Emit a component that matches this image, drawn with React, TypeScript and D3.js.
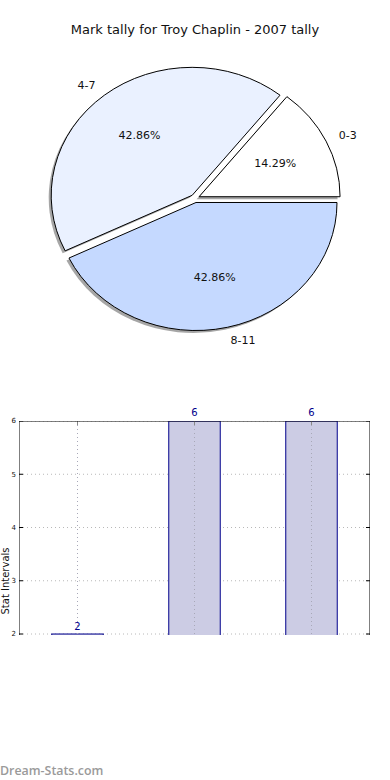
import React from "react";
import * as d3 from "d3";

// pie data
const pieLabels = ["0-3", "4-7", "8-11"];
const pieValues = [1, 3, 3];
const pieColors = ["#ffffff", "#eaf1ff", "#c5d9ff"];

// bar data
const barCategories = ["0-3", "4-7", "8-11"];
const barValues = [2, 6, 6];
const yTicks = [2, 3, 4, 5, 6];

const W = 390;
const H = 780;
const FONT = "DejaVu Sans, sans-serif";

const App = () => {
  // pie geometry (slightly squashed, like the original)
  const cx = 195;
  const cy = 198.5;
  const rx = 141;
  const ry = 128;
  const explode = 0.032;

  const pieGen = d3
    .pie<number>()
    .sort(null)
    .startAngle(Math.PI / 2)
    .endAngle(Math.PI / 2 - 2 * Math.PI);
  const arcs = pieGen(pieValues);
  const arcGen = d3.arc<d3.PieArcDatum<number>>().innerRadius(0).outerRadius(1);
  const total = d3.sum(pieValues);

  const slices = arcs.map((a, i) => {
    const mid = (a.startAngle + a.endAngle) / 2;
    const ux = Math.sin(mid);
    const uy = -Math.cos(mid);
    return {
      a,
      i,
      ux,
      uy,
      ox: cx + ux * explode * rx,
      oy: cy + uy * explode * ry,
    };
  });

  // bar geometry
  const left = 19;
  const right = 370;
  const top = 421;
  const bottom = 635;
  const x = d3.scaleLinear().domain([-0.5, barCategories.length - 0.5]).range([left, right]);
  const y = d3.scaleLinear().domain([2, 6]).range([634, top]);
  const barW = x(0.22) - x(-0.22);

  return (
    <svg
      width={W}
      height={H}
      style={{ position: "absolute", left: 0, top: 0, background: "#fff" }}
      fontFamily={FONT}
    >
      <defs>
        <clipPath id="plotClip">
          <rect x={left} y={top} width={right - left} height={bottom - top} />
        </clipPath>
      </defs>

      <text x={W / 2} y={34} textAnchor="middle" fontSize={13} fill="#111">
        Mark tally for Troy Chaplin - 2007 tally
      </text>

      {/* shadows */}
      {slices.map((s) => (
        <path
          key={"sh" + s.i}
          d={arcGen(s.a) || ""}
          transform={`translate(${s.ox - 2.5},${s.oy + 2.5}) scale(${rx},${ry})`}
          fill="#000"
          opacity={0.35}
        />
      ))}
      {/* slices */}
      {slices.map((s) => (
        <path
          key={"sl" + s.i}
          d={arcGen(s.a) || ""}
          transform={`translate(${s.ox},${s.oy}) scale(${rx},${ry})`}
          fill={pieColors[s.i]}
          stroke="#000"
          strokeWidth={1}
          vectorEffect="non-scaling-stroke"
          strokeLinejoin="round"
        />
      ))}
      {slices.map((s) => (
        <text
          key={"pc" + s.i}
          x={s.ox + s.ux * 0.6 * rx}
          y={s.oy + s.uy * 0.6 * ry}
          dy="0.35em"
          textAnchor="middle"
          fontSize={11}
          fill="#111"
        >
          {((pieValues[s.i] / total) * 100).toFixed(2)}%
        </text>
      ))}
      {slices.map((s) => (
        <text
          key={"lb" + s.i}
          x={s.ox + s.ux * 1.1 * rx}
          y={s.oy + s.uy * 1.1 * ry}
          dy="0.35em"
          textAnchor={s.ux > 0 ? "start" : "end"}
          fontSize={11}
          fill="#111"
        >
          {pieLabels[s.i]}
        </text>
      ))}

      {/* bar chart */}
      <g clipPath="url(#plotClip)">
        {yTicks.map((t) => (
          <line
            key={"gy" + t}
            x1={left}
            x2={right}
            y1={y(t)}
            y2={y(t)}
            stroke="#b8b8b8"
            strokeDasharray="1,3"
          />
        ))}
        {barValues.map((v, i) => (
          <rect
            key={"b" + i}
            x={x(i) - barW / 2}
            y={y(v)}
            width={barW}
            height={y(0) - y(v)}
            fill="#ccccE4"
            stroke="#00008b"
            strokeWidth={1}
          />
        ))}
        {barCategories.map((c, i) => (
          <line
            key={"gx" + c}
            x1={x(i)}
            x2={x(i)}
            y1={top}
            y2={bottom}
            stroke="#a8a8b8"
            strokeDasharray="1,3"
          />
        ))}
        {yTicks.map((t) => (
          <g key={"tk" + t}>
            <line x1={left} x2={left + 4} y1={y(t)} y2={y(t)} stroke="#000" />
            <line x1={right - 4} x2={right} y1={y(t)} y2={y(t)} stroke="#000" />
          </g>
        ))}
        {barCategories.map((c, i) => (
          <line key={"tt" + c} x1={x(i)} x2={x(i)} y1={top} y2={top + 4} stroke="#888" />
        ))}
        <rect x={left} y={top} width={right - left} height={bottom - top + 10} fill="none" stroke="#000" strokeWidth={1} />
        {barValues.map((v, i) => (
          <text
            key={"bv" + i}
            x={x(i)}
            y={y(v) - 4}
            textAnchor="middle"
            fontSize={10}
            fill="#00008b"
          >
            {v}
          </text>
        ))}
      </g>
      {barValues.map((v, i) =>
        y(v) <= top + 1 ? (
          <text key={"bo" + i} x={x(i)} y={y(v) - 5} textAnchor="middle" fontSize={10} fill="#00008b">
            {v}
          </text>
        ) : null
      )}
      {yTicks.map((t) => (
        <text key={"yl" + t} x={left - 3} y={y(t)} dy="0.35em" textAnchor="end" fontSize={7} fill="#111">
          {t}
        </text>
      ))}
      <text
        transform={`translate(9,581) rotate(-90)`}
        textAnchor="middle"
        fontSize={10}
        fill="#111"
      >
        Stat Intervals
      </text>

      <text x={0} y={775} fontFamily="Open Sans, sans-serif" fontWeight={600} fontSize={12.4} fill="#9a9a9a">
        Dream-Stats.com
      </text>
    </svg>
  );
};

export default App;
